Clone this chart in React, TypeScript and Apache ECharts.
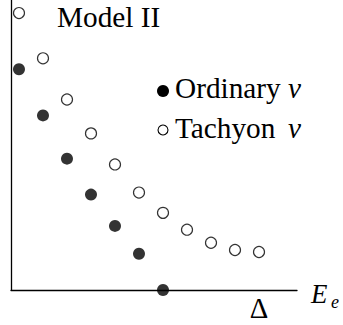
import React, { useEffect, useRef } from "react";
import * as echarts from "echarts";

const energies = [1, 2, 3, 4, 5, 6, 7, 8, 9, 10, 11];
const tachyonValues = [9.55, 7.99, 6.57, 5.4, 4.33, 3.36, 2.66, 2.08, 1.63, 1.38, 1.31];
const ordinaryValues = [7.61, 6.02, 4.53, 3.29, 2.21, 1.25, 0];
const seriesNames = ["Ordinary", "Tachyon"];
const particleSymbol = "ν";
const titleText = "Model II";
const xAxisLabel = "E";
const xAxisSub = "e";
const thresholdLabel = "Δ";

const FONT = "Liberation Serif";

function buildOption() {
  const ordinaryData = ordinaryValues.map((v, i) => [energies[i], v]);
  const tachyonData = tachyonValues.map((v, i) => [energies[i], v]);
  const legendRows = seriesNames
    .map((name, i) => {
      const cy = i === 0 ? 91 : 130;
      const base = i === 0 ? 98 : 138;
      const mid = base - 9.7;
      return [
        i === 0
          ? { type: "circle", shape: { cx: 163, cy, r: 6 }, style: { fill: "#000" } }
          : { type: "circle", shape: { cx: 163, cy, r: 5 }, style: { fill: "#fff", stroke: "#000", lineWidth: 1.1 } },
        {
          type: "text",
          x: 175,
          y: mid,
          scaleX: 1.22,
          scaleY: 1.22,
          style: { text: name, fontFamily: FONT, fontSize: 24, fill: "#000", verticalAlign: "middle", align: "left" },
        },
        {
          type: "text",
          x: 288,
          y: mid,
          scaleX: 1.22,
          scaleY: 1.22,
          style: { text: particleSymbol, fontFamily: FONT, fontSize: 24, fontStyle: "italic", fill: "#000", verticalAlign: "middle", align: "left" },
        },
      ];
    })
    .flat();
  return {
    animation: false,
    backgroundColor: "#ffffff",
    grid: { left: 11, right: 46, top: 0, bottom: 35 },
    xAxis: {
      type: "value",
      min: 0.667,
      max: 12.583,
      axisLine: { show: true, lineStyle: { color: "#000", width: 1.3 } },
      axisTick: { show: false },
      axisLabel: { show: false },
      splitLine: { show: false },
    },
    yAxis: {
      type: "value",
      min: 0,
      max: 10,
      axisLine: { show: true, lineStyle: { color: "#000", width: 1.3 } },
      axisTick: { show: false },
      axisLabel: { show: false },
      splitLine: { show: false },
    },
    series: [
      {
        name: seriesNames[0],
        type: "scatter",
        clip: false,
        symbol: "circle",
        symbolSize: 12,
        itemStyle: { color: "#000" },
        data: ordinaryData,
      },
      {
        name: seriesNames[1],
        type: "scatter",
        clip: false,
        symbol: "circle",
        symbolSize: 11,
        itemStyle: { color: "#fff", borderColor: "#000", borderWidth: 1.2 },
        data: tachyonData,
      },
    ],
    graphic: [
      ...legendRows,
      {
        type: "text",
        x: 57,
        y: 17,
        scaleX: 1.22,
        scaleY: 1.22,
        style: { text: titleText, fontFamily: FONT, fontSize: 24, fill: "#000", verticalAlign: "middle", align: "left" },
      },
      {
        type: "text",
        x: 311,
        y: 294,
        scaleX: 1.12,
        scaleY: 1.12,
        style: { text: xAxisLabel, fontFamily: FONT, fontSize: 24, fontStyle: "italic", fill: "#000", verticalAlign: "middle", align: "left" },
      },
      {
        type: "text",
        x: 331,
        y: 302,
        style: { text: xAxisSub, fontFamily: FONT, fontSize: 18, fontStyle: "italic", fill: "#000", verticalAlign: "middle", align: "left" },
      },
      {
        type: "text",
        x: 259,
        y: 308,
        scaleX: 1.2,
        scaleY: 1.2,
        style: { text: thresholdLabel, fontFamily: FONT, fontSize: 24, fill: "#000", verticalAlign: "middle", align: "center" },
      },
    ],
  };
}

export default function App() {
  const ref = useRef<HTMLDivElement>(null);
  useEffect(() => {
    document.body.style.margin = "0";
    if (!ref.current) return;
    const chart = echarts.init(ref.current, null, { renderer: "svg" });
    chart.setOption(buildOption());
    let alive = true;
    const fonts = (document as any).fonts;
    if (fonts && fonts.load) {
      Promise.all([
        fonts.load(`24px "${FONT}"`),
        fonts.load(`italic 24px "${FONT}"`),
        fonts.load(`18px "${FONT}"`),
      ])
        .catch(() => null)
        .then(() => {
          if (!alive) return;
          chart.clear();
          chart.setOption(buildOption());
        });
    }
    return () => {
      alive = false;
      chart.dispose();
    };
  }, []);
  return <div ref={ref} style={{ width: 343, height: 325, fontFamily: FONT }} />;
}
